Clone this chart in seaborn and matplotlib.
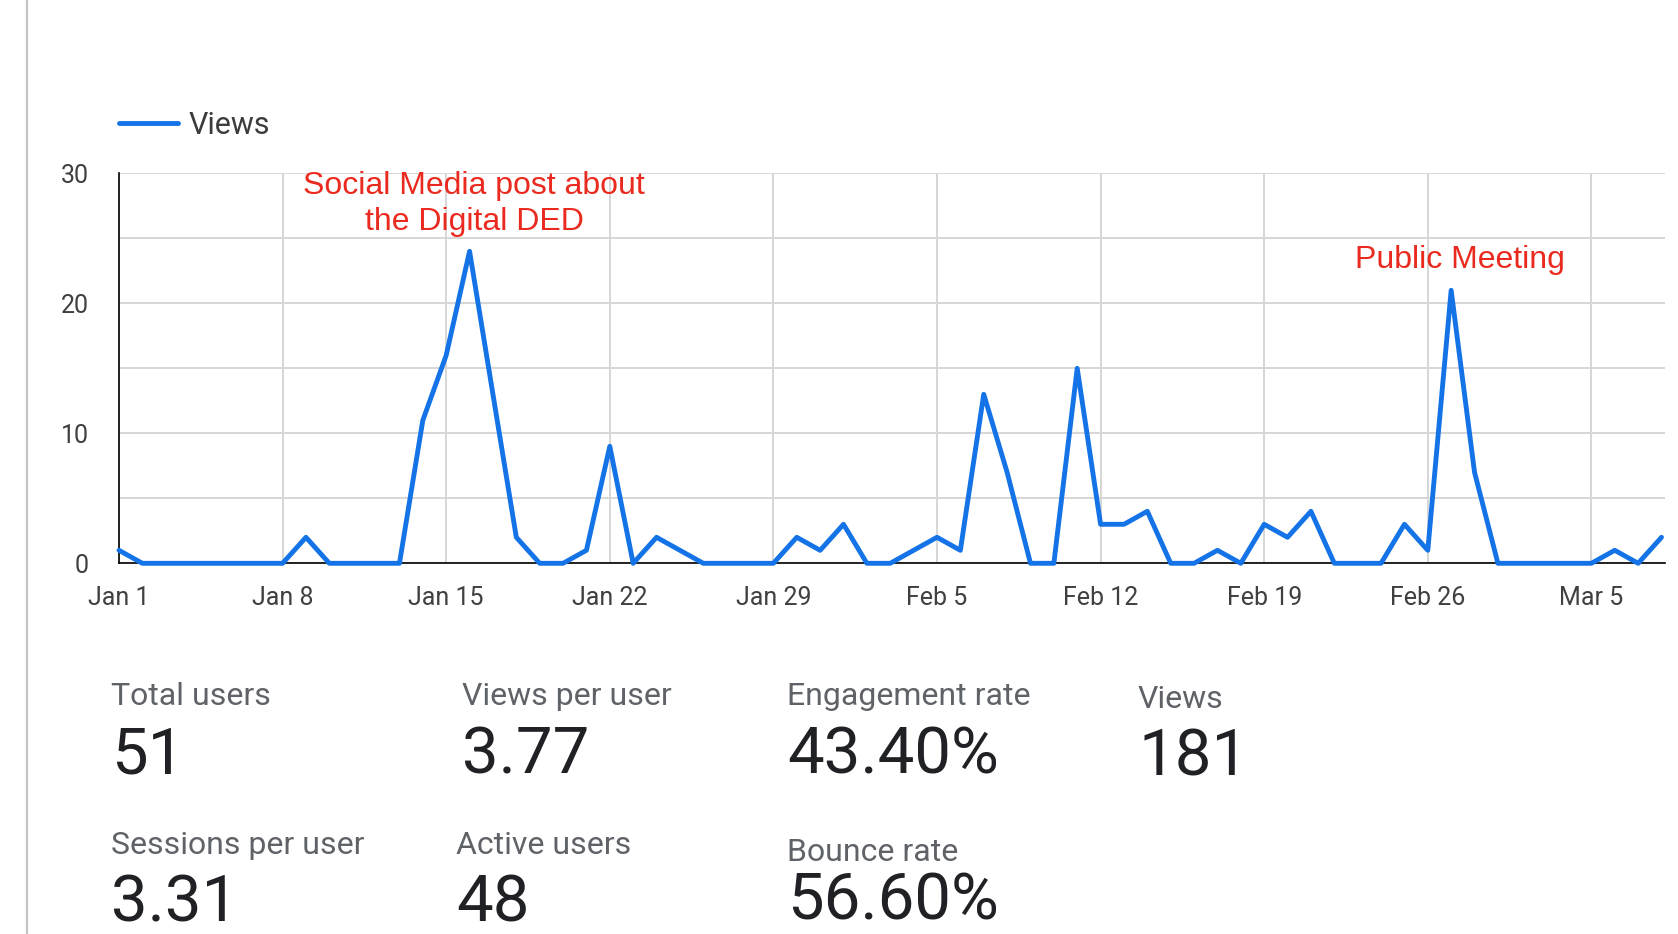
import pandas as pd
import numpy as np
import matplotlib
matplotlib.use("Agg")
import matplotlib.pyplot as plt
import matplotlib.dates as mdates
from matplotlib.lines import Line2D
import seaborn as sns

# Daily views, Jan 1 -> Mar 8
start_date = "2023-01-01"
views = [1, 0, 0, 0, 0, 0, 0, 0, 2, 0,
         0, 0, 0, 11, 16, 24, 13, 2, 0, 0,
         1, 9, 0, 2, 1, 0, 0, 0, 0, 2,
         1, 3, 0, 0, 1, 2, 1, 13, 7, 0,
         0, 15, 3, 3, 4, 0, 0, 1, 0, 3,
         2, 4, 0, 0, 0, 3, 1, 21, 7, 0,
         0, 0, 0, 0, 1, 0, 2]
y_ticks = [0, 10, 20, 30]

# annotations (day index, y value, text)
notes = [(15.19, 27.65, "Social Media post about\nthe Digital DED"),
         (57.38, 23.3, "Public Meeting")]

# scorecards
kpi_labels = ["Total users", "Views per user", "Engagement rate", "Views",
              "Sessions per user", "Active users", "Bounce rate"]
kpi_values = ["51", "3.77", "43.40%", "181", "3.31", "48", "56.60%"]

dates = pd.date_range(start_date, periods=len(views), freq="D")
df = pd.DataFrame({"date": dates, "views": views})

sns.set_style("white")
plt.rcParams['font.family'] = ['Roboto', 'DejaVu Sans']

W, H = 1678, 934
fig = plt.figure(figsize=(W / 100, H / 100), dpi=100)
fig.patch.set_facecolor("white")

ax_left, ax_bottom = 119, 563.3
ax = fig.add_axes([ax_left / W, (H - ax_bottom) / H, 1546.4 / W, 390 / H])

blue = "#1473e6"
sns.lineplot(data=df, x="date", y="views", ax=ax, color=blue, linewidth=3.5,
             label="Views", zorder=3, clip_on=False)

ax.set_xlim(dates[0], dates[-1] + pd.Timedelta(hours=4))
ax.set_ylim(0, 30)
ax.set_yticks(y_ticks)
ax.set_yticks([5, 15, 25], minor=True)
ax.set_xticks(pd.date_range(start_date, dates[-1], freq="7D"))
ax.xaxis.set_major_formatter(mdates.DateFormatter("%b %-d"))
ax.set_xlabel("")
ax.set_ylabel("")

ax.grid(True, which="both", color="#d6d6d6", linewidth=1.4)
ax.set_axisbelow(True)
for side in ["top", "right"]:
    ax.spines[side].set_visible(False)
for side in ["left", "bottom"]:
    ax.spines[side].set_color("black")
    ax.spines[side].set_linewidth(1.2)
ax.tick_params(axis="both", which="both", length=0, labelsize=18, labelcolor="#404040")
ax.tick_params(axis="x", pad=16)
ax.tick_params(axis="y", pad=22)

ax.legend(loc="center left", bbox_to_anchor=(0, (ax_bottom - 125) / 390),
          frameon=False, fontsize=22, handlelength=1.93, handletextpad=0.35,
          borderaxespad=0, borderpad=0, labelcolor="#3c3c3c")

for day, yv, txt in notes:
    ax.text(dates[0] + pd.Timedelta(days=day), yv, txt, color="#ea2a1e",
            fontsize=23, ha="center", va="center", linespacing=1.27,
            family=["Liberation Sans", "DejaVu Sans"])

# left panel border
fig.add_artist(Line2D([27 / W, 27 / W], [0, 1], color="#c4c4c4", linewidth=1.6))

# scorecards: (x, label baseline, value baseline) in pixels
kpi_pos = [(111, 705, 773), (462, 705, 773), (787, 705, 773), (1138, 708, 775),
           (111, 854, 921), (456, 854, 921), (787, 861, 920)]
for (x, ly, vy), lab, val in zip(kpi_pos, kpi_labels, kpi_values):
    fig.text(x / W, 1 - ly / H, lab, fontsize=23, color="#5f6368", va="baseline", ha="left")
    fig.text(x / W, 1 - vy / H, val, fontsize=47, color="#202124", va="baseline", ha="left")

fig.savefig("out.png", dpi=100, facecolor="white")
